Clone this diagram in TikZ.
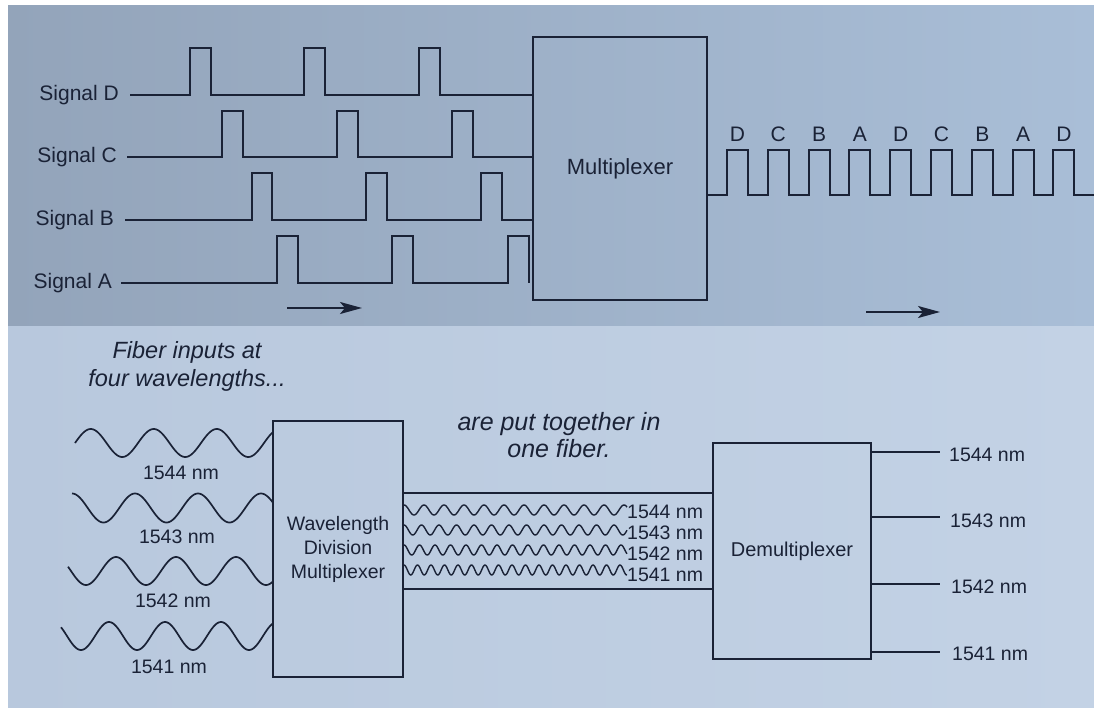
\documentclass[tikz,border=0pt]{standalone}
\usepackage{fontspec}
\setmainfont{Liberation Sans}
\usetikzlibrary{arrows.meta,calc}
\definecolor{ink}{HTML}{1A2236}
\definecolor{bgtopL}{HTML}{93A4BA}
\definecolor{bgtopR}{HTML}{A9BED7}
\definecolor{bgbotL}{HTML}{B8C8DD}
\definecolor{bgbotR}{HTML}{C3D2E5}
\begin{document}
\begin{tikzpicture}[x=1pt,y=-1pt,
  wire/.style={draw=ink, line width=1.9pt, line join=miter},
  boxn/.style={draw=ink, line width=1.9pt, inner sep=0pt, text=ink, align=center},
  sig/.style={text=ink, font=\fontsize{21}{25}\selectfont, anchor=east, inner sep=0pt},
  slot/.style={text=ink, font=\fontsize{21}{25}\selectfont, inner sep=0pt},
  nm/.style={text=ink, font=\fontsize{19.5}{23}\selectfont, inner sep=0pt},
  captxt/.style={text=ink, font=\fontsize{23.5}{28}\selectfont\itshape, align=center, inner sep=0pt},
  arr/.style={draw=ink, line width=1.9pt, -{Stealth[length=22pt,width=12pt,inset=5pt]}}
]
\useasboundingbox (0,0) rectangle (1094,708);
% background (photographed page)
\fill[white] (0,0) rectangle (1094,708);
\shade[left color=bgtopL, right color=bgtopR] (8,6) rectangle (1094,326);
\shade[left color=bgbotL, right color=bgbotR] (8,326) rectangle (1094,708);

% ---------------- top: time division multiplexing ----------------
\node[boxn, minimum width=174pt, minimum height=263pt,
      font=\fontsize{22}{26}\selectfont] (mux) at (620,168.5) {Multiplexer};

\node[sig] (sigD) at (119,95) {Signal D};
\node[sig] (sigC) at (117,157) {Signal C};
\node[sig] (sigB) at (114,220) {Signal B};
\node[sig] (sigA) at (112,283) {Signal A};

\coordinate (yD) at (0,95);
\coordinate (yC) at (0,157);
\coordinate (yB) at (0,220);

\draw[wire] ([xshift=11pt]sigD.east) -- (190,95) -- (190,48) -- (211,48) -- (211,95)
  -- (304,95) -- (304,48) -- (325,48) -- (325,95)
  -- (419,95) -- (419,48) -- (440,48) -- (440,95) -- (mux.west |- yD);
\draw[wire] ([xshift=10pt]sigC.east) -- (222,157) -- (222,111) -- (243,111) -- (243,157)
  -- (337,157) -- (337,111) -- (358,111) -- (358,157)
  -- (452,157) -- (452,111) -- (473,111) -- (473,157) -- (mux.west |- yC);
\draw[wire] ([xshift=11pt]sigB.east) -- (252,220) -- (252,173) -- (272,173) -- (272,220)
  -- (366,220) -- (366,173) -- (387,173) -- (387,220)
  -- (481,220) -- (481,173) -- (502,173) -- (502,220) -- (mux.west |- yB);
\coordinate (aEnd) at (529,283);
\draw[wire] ([xshift=9pt]sigA.east) -- (277,283) -- (277,236) -- (298,236) -- (298,283)
  -- (392,283) -- (392,236) -- (413,236) -- (413,283)
  -- (508,283) -- (508,236) -- (529,236) -- (aEnd);

% output pulse train
\coordinate (yO) at (0,195);
\coordinate (oEnd) at (1094,195);
\draw[wire] (mux.east |- yO)
  foreach \i in {0,...,8} { -- ({727+40.8*\i},195) -- ({727+40.8*\i},150)
                             -- ({748+40.8*\i},150) -- ({748+40.8*\i},195) }
  -- (oEnd);
\foreach \i/\l in {0/D,1/C,2/B,3/A,4/D,5/C,6/B,7/A,8/D}
  \node[slot] (slot\i) at ({737.5+40.8*\i},134) {\l};

% direction arrows
\coordinate (a1s) at (287,308);
\coordinate (a1e) at (362,308);
\draw[arr] (a1s) -- (a1e);
\coordinate (a2s) at (866,312);
\coordinate (a2e) at (940,312);
\draw[arr] (a2s) -- (a2e);

% ---------------- bottom: wavelength division multiplexing ----------------
\node[captxt] (capin) at (187,366) {Fiber inputs at\\four wavelengths...};
\node[captxt, font=\fontsize{25}{27}\selectfont\itshape] (capone) at (559,435) {are put together in\\one fiber.};

\node[boxn, minimum width=130pt, minimum height=256pt,
      font=\fontsize{19.5}{24}\selectfont] (wdm) at (338,549) {Wavelength\\Division\\Multiplexer};
\node[boxn, minimum width=158pt, minimum height=216pt,
      font=\fontsize{20}{24}\selectfont] (demux) at (792,551) {Demultiplexer};

% input waves
\draw[wire, line width=1.7pt] plot[domain=75:273, samples=220] (\x, {443 - 14*sin((\x-75)/63*360)});
\draw[wire, line width=1.7pt] plot[domain=72:273, samples=220] (\x, {508 - 14.5*cos((\x-72)/63*360)});
\draw[wire, line width=1.7pt] plot[domain=68:273, samples=220] (\x, {571 - 14*cos((\x-56)/60*360)});
\draw[wire, line width=1.7pt] plot[domain=61:273, samples=220] (\x, {636 - 14*cos((\x-53)/56*360)});

\node[nm] (in1) at (181,473) {1544 nm};
\node[nm] (in2) at (177,537) {1543 nm};
\node[nm] (in3) at (173,601) {1542 nm};
\node[nm] (in4) at (169,667) {1541 nm};

% the fiber
\coordinate (f1) at (0,493);
\coordinate (f2) at (0,589);
\draw[wire] (wdm.east |- f1) -- (demux.west |- f1);
\draw[wire] (wdm.east |- f2) -- (demux.west |- f2);

\draw[wire, line width=1.4pt] plot[domain=404:627, samples=300] (\x, {510 - 5*cos((\x-404)/20*360)});
\draw[wire, line width=1.4pt] plot[domain=404:627, samples=300] (\x, {530 - 5*cos((\x-404)/17.5*360)});
\draw[wire, line width=1.4pt] plot[domain=404:627, samples=300] (\x, {550 - 5*cos((\x-404)/15.5*360)});
\draw[wire, line width=1.4pt] plot[domain=404:627, samples=300] (\x, {570 - 5*cos((\x-404)/13.5*360)});

\node[nm, anchor=west] (fw1) at (627,512) {1544 nm};
\node[nm, anchor=west] (fw2) at (627,533) {1543 nm};
\node[nm, anchor=west] (fw3) at (627,554) {1542 nm};
\node[nm, anchor=west] (fw4) at (627,575) {1541 nm};

% outputs
\coordinate (o1) at (940,452);
\coordinate (o2) at (940,517);
\coordinate (o3) at (940,584);
\coordinate (o4) at (940,652);
\draw[wire] (demux.east |- o1) -- (o1);
\draw[wire] (demux.east |- o2) -- (o2);
\draw[wire] (demux.east |- o3) -- (o3);
\draw[wire] (demux.east |- o4) -- (o4);
\node[nm, anchor=west] (out1) at (949,455) {1544 nm};
\node[nm, anchor=west] (out2) at (950,521) {1543 nm};
\node[nm, anchor=west] (out3) at (951,587) {1542 nm};
\node[nm, anchor=west] (out4) at (952,654) {1541 nm};
\end{tikzpicture}
\end{document}
